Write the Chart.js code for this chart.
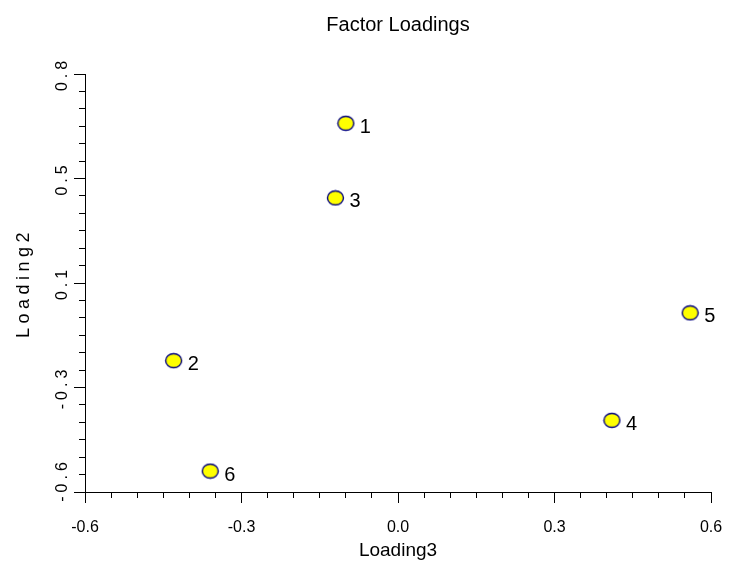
<!DOCTYPE html>
<html>
<head>
<meta charset="utf-8">
<title>Factor Loadings</title>
<script src="https://cdn.jsdelivr.net/npm/chart.js@4.4.1/dist/chart.umd.min.js"></script>
<style>
  html, body { margin: 0; padding: 0; background: #fff; }
  canvas { display: block; }
</style>
</head>
<body>
<canvas id="chart" width="729" height="572"></canvas>
<script>
// point names and loadings
const pointLabels = ["1", "2", "3", "4", "5", "6"];
const loading3 = [-0.10, -0.43, -0.12, 0.41, 0.56, -0.36];
const loading2 = [0.635, -0.16, 0.385, -0.36, 0.00, -0.53];

// axis ticks (y ticks are evenly spaced, labels rounded to one decimal)
const xTickValues = [-0.6, -0.3, 0.0, 0.3, 0.6];
const xTickLabels = ["-0.6", "-0.3", "0.0", "0.3", "0.6"];
const yTickValues = [-0.6, -0.25, 0.1, 0.45, 0.8];
const yTickLabels = ["-0.6", "-0.3", "0.1", "0.5", "0.8"];
const minorSteps = 6;

Chart.defaults.font.family = "'Liberation Sans', Arial, sans-serif";
Chart.defaults.color = "#000";

function minorTicks(majors) {
    const out = [];
    for (let i = 0; i < majors.length - 1; i++) {
        const a = majors[i], b = majors[i + 1];
        for (let j = 0; j < minorSteps; j++) out.push(a + (b - a) * j / minorSteps);
    }
    out.push(majors[majors.length - 1]);
    return out;
}

// linear scale whose labels and title are drawn letter-spaced
class SpacedScale extends Chart.LinearScale {
    _computeLabelItems(area) {
        const items = super._computeLabelItems(area);
        // bottom label sits above the corner, clear of the x labels
        if (items.length) items[0].options.translation[1] -= 12;
        return items;
    }
    drawLabels(area) {
        this.ctx.save();
        this.ctx.letterSpacing = "4px";
        super.drawLabels(area);
        this.ctx.restore();
    }
    drawTitle() {
        this.ctx.save();
        this.ctx.letterSpacing = "4.5px";
        super.drawTitle();
        this.ctx.restore();
    }
}
SpacedScale.id = "spacedLinear";
SpacedScale.defaults = Chart.LinearScale.defaults;
Chart.register(SpacedScale);

function makeMarker() {
    const c = document.createElement("canvas");
    c.width = 19;
    c.height = 17;
    const g = c.getContext("2d");
    g.beginPath();
    g.ellipse(9.5, 8.5, 8, 7, 0, 0, Math.PI * 2);
    g.fillStyle = "#ffff00";
    g.fill();
    g.lineWidth = 1.4;
    g.strokeStyle = "#000080";
    g.stroke();
    return c;
}

const pointLabelPlugin = {
    id: "pointLabels",
    afterDatasetsDraw(chart) {
        const ctx = chart.ctx;
        const meta = chart.getDatasetMeta(0);
        ctx.save();
        ctx.font = "20px 'Liberation Sans', Arial, sans-serif";
        ctx.fillStyle = "#000";
        ctx.textAlign = "left";
        ctx.textBaseline = "middle";
        meta.data.forEach((el, i) => {
            ctx.fillText(pointLabels[i], el.x + 14, el.y + 4);
        });
        ctx.restore();
    }
};

const points = loading3.map((x, i) => ({ x: x, y: loading2[i] }));

new Chart(document.getElementById("chart"), {
    type: "scatter",
    data: {
        datasets: [{
            data: points,
            pointStyle: makeMarker(),
            pointRadius: 8,
            xAxisID: "x",
            yAxisID: "y"
        }]
    },
    options: {
        responsive: false,
        animation: false,
        layout: { padding: { left: 0, right: 18, top: 0, bottom: 0 } },
        plugins: {
            legend: { display: false },
            tooltip: { enabled: false },
            title: {
                display: true,
                text: "Factor Loadings",
                fullSize: false,
                color: "#000",
                font: { size: 20, weight: "normal" },
                padding: { top: 13, bottom: 37 }
            }
        },
        scales: {
            x: {
                type: "linear",
                position: "bottom",
                min: -0.6,
                max: 0.6,
                afterFit: s => { s.height = 80; s.paddingLeft = 0; s.paddingRight = 0; },
                afterBuildTicks: s => { s.ticks = xTickValues.map(v => ({ value: v })); },
                ticks: {
                    autoSkip: false,
                    maxRotation: 0,
                    padding: 15,
                    font: { size: 16 },
                    callback: (v, i) => xTickLabels[i]
                },
                grid: { drawOnChartArea: false, tickLength: 11, tickColor: "#000" },
                border: { color: "#000", width: 1 },
                title: {
                    display: true,
                    text: "Loading3",
                    font: { size: 19 },
                    padding: { top: 0, bottom: 9.6 }
                }
            },
            y: {
                type: "spacedLinear",
                position: "left",
                min: -0.6,
                max: 0.8,
                afterFit: s => { s.width = 85; s.paddingTop = 0; s.paddingBottom = 0; },
                afterBuildTicks: s => { s.ticks = yTickValues.map(v => ({ value: v })); },
                ticks: {
                    autoSkip: false,
                    minRotation: 90,
                    maxRotation: 90,
                    crossAlign: "center",
                    padding: -2,
                    font: { size: 16 },
                    callback: (v, i) => yTickLabels[i]
                },
                grid: { drawOnChartArea: false, tickLength: 11, tickColor: "#000" },
                border: { color: "#000", width: 1 },
                title: {
                    display: true,
                    text: "Loading2",
                    font: { size: 18 },
                    padding: { top: 13.2, bottom: 0 }
                }
            },
            // short minor tick marks, laid on the same axis lines
            xMinor: {
                type: "linear",
                axis: "x",
                position: { y: -0.6 },
                min: -0.6,
                max: 0.6,
                afterBuildTicks: s => { s.ticks = minorTicks(xTickValues).map(v => ({ value: v })); },
                ticks: { display: false, autoSkip: false },
                grid: { drawOnChartArea: false, tickLength: 6, tickColor: "#000" },
                border: { display: false }
            },
            yMinor: {
                type: "linear",
                axis: "y",
                position: { x: -0.6 },
                min: -0.6,
                max: 0.8,
                afterBuildTicks: s => { s.ticks = minorTicks(yTickValues).map(v => ({ value: v })); },
                ticks: { display: false, autoSkip: false },
                grid: { drawOnChartArea: false, tickLength: 6, tickColor: "#000" },
                border: { display: false }
            }
        }
    },
    plugins: [pointLabelPlugin]
});
</script>
</body>
</html>
